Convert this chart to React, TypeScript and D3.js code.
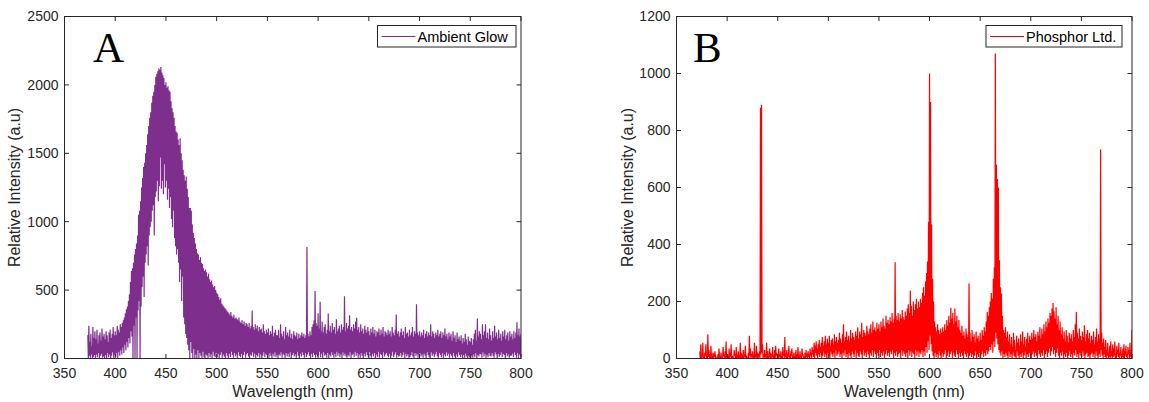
import React from 'react';
import * as d3 from 'd3';

// first wavelength of both spectra (nm), one high/low pair per nm
const START_NM = 373;

const xTicks = [350, 400, 450, 500, 550, 600, 650, 700, 750, 800];
const glowTicks = [0, 500, 1000, 1500, 2000, 2500];
const phosphorTicks = [0, 200, 400, 600, 800, 1000, 1200];

// A: upper envelope, 373..800 nm
const glowHigh = [
  170, 240, 120, 180, 90, 230, 150,
  200, 140, 210, 110, 170, 190, 130, 220, 160, 180,
  140, 200, 170, 120, 190, 210, 150, 180, 230, 170,
  200, 170, 240, 210, 190, 250, 230, 260, 280, 300,
  330, 360, 380, 420, 470, 560, 640, 660, 700, 760,
  800, 840, 900, 1050, 1080, 1150, 1250, 1320, 1400, 1430,
  1500, 1560, 1640, 1700, 1760, 1800, 1870, 1920, 1950, 2000,
  2060, 2080, 2100, 2120, 2110, 2130, 2090, 2070, 2050, 2000,
  2020, 1980, 1990, 1960, 1950, 1880, 1830, 1800, 1760, 1700,
  1660, 1650, 1600, 1560, 1610, 1500, 1450, 1380, 1340, 1300,
  1330, 1240, 1180, 1100, 1100, 1080, 980, 920, 880, 840,
  800, 770, 760, 720, 740, 700, 690, 660, 640, 650,
  630, 600, 620, 580, 560, 570, 540, 520, 530, 500,
  480, 470, 450, 430, 440, 400, 390, 380, 370, 360,
  350, 340, 330, 320, 340, 310, 300, 320, 290, 300,
  290, 280, 300, 270, 260, 280, 250, 270, 240, 260,
  250, 230, 260, 220, 240, 350, 230, 210, 250, 220,
  240, 200, 230, 210, 220, 190, 250, 200, 180, 210,
  190, 220, 170, 200, 180, 240, 160, 190, 210, 170,
  170, 210, 150, 250, 180, 160, 200, 140, 230, 170,
  190, 160, 210, 150, 180, 140, 200, 170, 160, 190,
  140, 180, 150, 170, 190, 160, 180, 150, 170, 815,
  180, 160, 200, 170, 230, 250, 280, 494, 260, 240,
  330, 220, 414, 200, 270, 190, 230, 250, 180, 210,
  329, 200, 240, 190, 260, 210, 230, 180, 287, 200,
  220, 240, 190, 250, 210, 230, 455, 200, 260, 220,
  240, 316, 210, 230, 200, 250, 220, 270, 297, 210,
  230, 190, 250, 200, 220, 180, 240, 210, 190, 230,
  200, 170, 220, 190, 230, 180, 210, 160, 200, 190,
  220, 170, 210, 180, 230, 160, 200, 190, 170, 210,
  180, 200, 160, 230, 190, 170, 210, 321, 180, 200,
  160, 190, 220, 170, 200, 150, 230, 180, 190, 160,
  210, 170, 190, 230, 160, 200, 180, 397, 190, 170,
  200, 160, 190, 170, 210, 150, 180, 200, 160, 190,
  170, 250, 160, 200, 180, 150, 190, 170, 210, 160,
  180, 200, 150, 190, 170, 220, 160, 180, 140, 190,
  160, 180, 130, 200, 150, 170, 120, 190, 140, 160,
  130, 170, 110, 150, 120, 180, 140, 100, 160, 130,
  120, 150, 100, 140, 180, 210, 130, 292, 160, 200,
  180, 140, 250, 170, 200, 250, 150, 190, 140, 220,
  170, 130, 200, 150, 240, 160, 190, 140, 210, 150,
  180, 130, 200, 160, 210, 140, 170, 190, 130, 200,
  160, 180, 140, 200, 150, 190, 265, 170, 220, 160,
  180,
];

// A: lower envelope
const glowLow = [
  0, 20, 5, 30, 0, 10, 25,
  0, 30, 10, 40, 0, 20, 35, 5, 15, 0,
  25, 0, 40, 10, 30, 0, 20, 45, 5, 30,
  10, 40, 0, 50, 20, 60, 30, 80, 40, 100,
  60, 120, 80, 150, 110, 200, 160, 0, 240, 0,
  300, 0, 350, 420, 0, 380, 520, 600, 450, 700,
  760, 820, 680, 900, 960, 1000, 1080, 1120, 900, 1180,
  1220, 1300, 1150, 1260, 1470, 1240, 1300, 1200, 1420, 1250,
  1300, 1160, 1240, 1100, 1180, 1020, 960, 1080, 880, 820,
  760, 800, 700, 560, 650, 420, 600, 300, 250, 180,
  150, 100, 60, 0, 120, 40, 0, 70, 0, 30,
  0, 60, 0, 40, 20, 0, 50, 10, 0, 30,
  20, 0, 40, 10, 30, 0, 50, 20, 10, 40,
  10, 35, 0, 25, 45, 5, 30, 15, 0, 40,
  20, 0, 35, 10, 50, 25, 5, 40, 15, 30,
  0, 45, 20, 10, 35, 0, 25, 50, 5, 30,
  40, 15, 0, 30, 20, 45, 10, 35, 0, 25,
  15, 40, 5, 30, 0, 20, 45, 10, 35, 25,
  30, 5, 40, 20, 0, 35, 15, 45, 10, 25,
  0, 30, 20, 45, 5, 35, 25, 0, 40, 15,
  35, 10, 45, 0, 25, 40, 15, 30, 5, 50,
  20, 0, 35, 15, 45, 25, 5, 40, 10, 30,
  45, 20, 0, 35, 10, 40, 25, 5, 30, 15,
  25, 50, 10, 35, 0, 45, 20, 30, 5, 40,
  0, 30, 15, 45, 25, 5, 35, 10, 50, 20,
  40, 10, 30, 0, 45, 20, 35, 15, 5, 25,
  15, 45, 0, 25, 35, 10, 50, 20, 40, 5,
  30, 5, 40, 20, 0, 35, 15, 45, 25, 10,
  45, 20, 5, 35, 15, 40, 0, 30, 10, 50,
  5, 35, 25, 0, 45, 15, 30, 40, 20, 10,
  35, 0, 20, 50, 10, 30, 45, 5, 25, 15,
  20, 40, 10, 25, 45, 0, 35, 15, 30, 5,
  10, 25, 45, 15, 0, 40, 20, 35, 5, 30,
  40, 15, 30, 5, 35, 20, 0, 45, 25, 10,
  0, 45, 20, 35, 10, 30, 50, 15, 5, 40,
  25, 10, 40, 0, 30, 15, 45, 20, 35, 5,
  35, 20, 5, 40, 15, 0, 30, 10, 45, 25,
  10, 30, 0, 25, 5, 35, 15, 0, 20, 10,
  0, 20, 5, 30, 10, 40, 0, 25, 15, 35,
  30, 5, 45, 15, 35, 0, 25, 10, 40, 20,
  15, 40, 20, 5, 45, 30, 0, 35, 10, 25,
  45, 10, 35, 25, 0, 40, 15, 30, 5, 20,
  20, 35, 10, 45, 25, 5, 40, 0, 30, 15,
  25,
];

// B: upper envelope
const phosphorHigh = [
  25, 50, 10, 55, 0, 20, 50,
  5, 85, 30, 15, 45, 0, 20, 10, 25, 5,
  0, 15, 35, 5, 20, 0, 40, 10, 25, 60,
  15, 5, 35, 20, 50, 10, 0, 30, 15, 40,
  5, 25, 10, 55, 20, 0, 30, 15, 45, 10,
  0, 20, 80, 35, 10, 25, 5, 55, 15, 45,
  20, 10, 25, 880, 890, 50, 15, 30, 10, 55,
  25, 5, 35, 20, 15, 40, 10, 30, 45, 20,
  5, 35, 15, 25, 0, 40, 20, 75, 10, 30,
  15, 45, 5, 25, 35, 10, 20, 0, 30, 15,
  40, 10, 25, 5, 35, 15, 0, 20, 30, 10,
  25, 15, 35, 20, 40, 30, 55, 45, 60, 35,
  50, 65, 40, 55, 75, 45, 60, 80, 50, 70,
  55, 80, 45, 65, 70, 50, 85, 60, 75, 55,
  65, 90, 70, 55, 85, 120, 60, 75, 95, 65,
  80, 60, 100, 70, 90, 75, 65, 95, 80, 110,
  70, 95, 85, 125, 75, 100, 90, 80, 115, 95,
  85, 105, 120, 90, 130, 100, 110, 95, 125, 105,
  120, 95, 130, 110, 140, 115, 105, 150, 125, 135,
  120, 145, 130, 160, 125, 140, 338, 150, 135, 160,
  130, 155, 140, 170, 145, 135, 165, 150, 175, 190,
  160, 239, 185, 150, 200, 170, 190, 210, 175, 200,
  180, 210, 195, 230, 250, 220, 270, 300, 340, 480,
  1000, 900, 470, 280, 200, 130, 110, 95, 120, 100,
  85, 105, 90, 110, 95, 120, 100, 135, 115, 150,
  125, 178, 140, 160, 120, 175, 130, 150, 110, 135,
  100, 90, 115, 80, 95, 70, 105, 85, 75, 263,
  90, 60, 100, 75, 85, 55, 95, 70, 80, 60,
  90, 65, 100, 80, 110, 95, 130, 163, 150, 180,
  200, 230, 210, 280, 320, 1070, 680, 630, 600, 345,
  250, 228, 150, 100, 90, 110, 75, 95, 60, 85,
  50, 75, 40, 90, 65, 30, 80, 55, 70, 45,
  85, 60, 95, 50, 75, 40, 70, 90, 55, 80,
  65, 90, 70, 100, 75, 85, 60, 95, 80, 110,
  70, 105, 85, 120, 95, 130, 110, 140, 125, 160,
  150, 175, 195, 165, 140, 180, 120, 150, 100, 130,
  85, 110, 70, 95, 60, 100, 80, 55, 90, 70,
  85, 60, 100, 75, 120, 163, 90, 70, 105, 80,
  65, 95, 75, 117, 60, 85, 100, 70, 90, 55,
  80, 65, 95, 50, 75, 105, 60, 85, 70, 733,
  90, 55, 70, 40, 65, 30, 55, 20, 45, 60,
  25, 50, 35, 60, 15, 45, 30, 55, 20, 40,
  10, 35, 50, 25, 45, 15, 40, 30, 55, 20,
  102,
];

// B: lower envelope
const phosphorLow = [
  0, 0, 5, 0, 0, 10, 0,
  0, 5, 0, 0, 10, 0, 0, 5, 0, 0,
  0, 0, 5, 0, 0, 0, 10, 0, 0, 5,
  0, 0, 0, 5, 0, 0, 0, 10, 0, 0,
  5, 0, 0, 0, 10, 0, 0, 5, 0, 0,
  0, 0, 10, 0, 5, 0, 0, 0, 5, 0,
  0, 5, 0, 15, 20, 0, 0, 5, 0, 0,
  0, 10, 0, 0, 5, 0, 0, 0, 10, 0,
  0, 5, 0, 0, 0, 10, 0, 5, 0, 0,
  5, 0, 0, 10, 0, 0, 5, 0, 0, 0,
  0, 0, 5, 0, 10, 0, 0, 0, 5, 0,
  5, 0, 10, 0, 15, 5, 0, 20, 10, 0,
  15, 5, 20, 0, 10, 25, 5, 15, 0, 20,
  10, 0, 25, 15, 5, 20, 0, 30, 10, 15,
  25, 5, 15, 0, 20, 10, 30, 5, 15, 0,
  20, 10, 0, 25, 15, 5, 30, 0, 20, 10,
  5, 25, 15, 0, 30, 10, 20, 5, 25, 15,
  0, 20, 10, 30, 5, 25, 15, 0, 20, 10,
  30, 5, 20, 10, 25, 0, 15, 30, 10, 20,
  5, 25, 15, 30, 0, 20, 10, 25, 5, 15,
  20, 0, 30, 10, 25, 15, 5, 20, 0, 30,
  10, 25, 5, 20, 15, 0, 30, 10, 25, 5,
  20, 15, 30, 5, 25, 10, 40, 20, 60, 30,
  80, 50, 25, 10, 0, 20, 5, 15, 0, 25,
  10, 0, 20, 5, 15, 30, 0, 10, 25, 5,
  15, 25, 0, 20, 10, 5, 30, 15, 0, 20,
  5, 20, 10, 0, 25, 15, 5, 20, 0, 10,
  20, 5, 15, 0, 10, 25, 0, 15, 5, 20,
  0, 15, 25, 5, 20, 10, 30, 15, 25, 40,
  30, 50, 20, 60, 40, 90, 70, 50, 30, 20,
  10, 25, 0, 15, 5, 20, 10, 0, 25, 5,
  15, 0, 20, 10, 5, 0, 25, 10, 0, 15,
  5, 20, 0, 10, 25, 0, 15, 5, 20, 10,
  0, 15, 25, 5, 20, 10, 0, 30, 15, 5,
  20, 10, 30, 0, 15, 25, 5, 20, 35, 10,
  25, 40, 15, 30, 5, 20, 35, 10, 0, 20,
  10, 25, 0, 15, 5, 20, 0, 10, 25, 5,
  15, 0, 20, 10, 30, 5, 15, 0, 20, 10,
  5, 25, 10, 0, 15, 20, 5, 10, 0, 15,
  20, 5, 15, 0, 25, 10, 0, 15, 5, 30,
  10, 0, 15, 5, 0, 10, 0, 5, 0, 10,
  0, 5, 10, 0, 0, 15, 5, 0, 10, 0,
  5, 0, 0, 10, 5, 0, 15, 0, 5, 0,
  20,
];

const TOP = 16.5;
const BOTTOM = 358.5;
const INK = '#262626';
const SANS = '"Liberation Sans", Arial, Helvetica, sans-serif';
const SERIF = '"Liberation Serif", "Times New Roman", serif';

function toPoints(high: number[], low: number[]): [number, number][] {
  const pts: [number, number][] = [];
  high.forEach((h, i) => {
    pts.push([START_NM + i, h]);
    pts.push([START_NM + i + 0.5, low[i] ?? 0]);
  });
  return pts;
}

type PanelProps = {
  id: string;
  left: number;
  right: number;
  yMax: number;
  yTicks: number[];
  high: number[];
  low: number[];
  color: string;
  letter: string;
  letterX: number;
  yLabelX: number;
  legend: string;
  legendBox: [number, number];
};

const Panel = ({ id, left, right, yMax, yTicks, high, low, color, letter, letterX, yLabelX, legend, legendBox }: PanelProps) => {
  const x = d3.scaleLinear().domain([350, 800]).range([left, right]);
  const y = d3.scaleLinear().domain([0, yMax]).range([BOTTOM, TOP]);
  const line = d3.line<[number, number]>().x(d => x(d[0])).y(d => y(d[1]));
  const path = line(toPoints(high, low)) || '';
  const tick = 4.5;
  const [lx0, lx1] = legendBox;

  return (
    <g>
      <defs>
        <clipPath id={id}>
          <rect x={left} y={TOP} width={right - left} height={BOTTOM - TOP} />
        </clipPath>
      </defs>
      <path d={path} fill="none" stroke={color} strokeWidth={1.2} clipPath={`url(#${id})`} />

      {/* box + inward ticks on all sides */}
      <rect x={left} y={TOP} width={right - left} height={BOTTOM - TOP} fill="none" stroke={INK} strokeWidth={1} />
      {xTicks.map(t => (
        <g key={'x' + t}>
          <line x1={x(t)} x2={x(t)} y1={BOTTOM} y2={BOTTOM - tick} stroke={INK} />
          <line x1={x(t)} x2={x(t)} y1={TOP} y2={TOP + tick} stroke={INK} />
          <text x={x(t)} y={377.5} textAnchor="middle" fontSize={14} fill={INK} fontFamily={SANS}>{t}</text>
        </g>
      ))}
      {yTicks.map(t => (
        <g key={'y' + t}>
          <line x1={left} x2={left + tick} y1={y(t)} y2={y(t)} stroke={INK} />
          <line x1={right} x2={right - tick} y1={y(t)} y2={y(t)} stroke={INK} />
          <text x={left - 6} y={y(t)} dy="0.35em" textAnchor="end" fontSize={14} fill={INK} fontFamily={SANS}>{t}</text>
        </g>
      ))}

      <text x={(left + right) / 2} y={396.5} textAnchor="middle" fontSize={16} fill={INK} fontFamily={SANS}>Wavelength (nm)</text>
      <text transform={`translate(${yLabelX},${(TOP + BOTTOM) / 2}) rotate(-90)`} dy="0.35em" textAnchor="middle" fontSize={16} fill={INK} fontFamily={SANS}>
        Relative Intensity (a.u)
      </text>

      <text x={letterX} y={62} fontSize={43} fill="#000" fontFamily={SERIF}>{letter}</text>

      {/* legend */}
      <rect x={lx0} y={25.5} width={lx1 - lx0} height={21.5} fill="#fff" stroke={INK} strokeWidth={1} />
      <line x1={lx0 + 4} x2={lx0 + 38} y1={36.5} y2={36.5} stroke={color} strokeWidth={1} />
      <text x={lx0 + 40} y={42} fontSize={14.5} fill="#000" fontFamily={SANS}>{legend}</text>
    </g>
  );
};

export default function App() {
  return (
    <svg width={1149} height={402} style={{ display: 'block', position: 'absolute', left: 0, top: 0, background: '#fff' }}>
      <Panel
        id="clipA" left={64.5} right={521} yMax={2500} yTicks={glowTicks}
        high={glowHigh} low={glowLow} color="#7E2F8E"
        letter="A" letterX={93} yLabelX={14} legend="Ambient Glow" legendBox={[377.5, 516]}
      />
      <Panel
        id="clipB" left={676.5} right={1132} yMax={1200} yTicks={phosphorTicks}
        high={phosphorHigh} low={phosphorLow} color="#FF0000"
        letter="B" letterX={693} yLabelX={627} legend="Phosphor Ltd." legendBox={[986, 1122]}
      />
    </svg>
  );
}
